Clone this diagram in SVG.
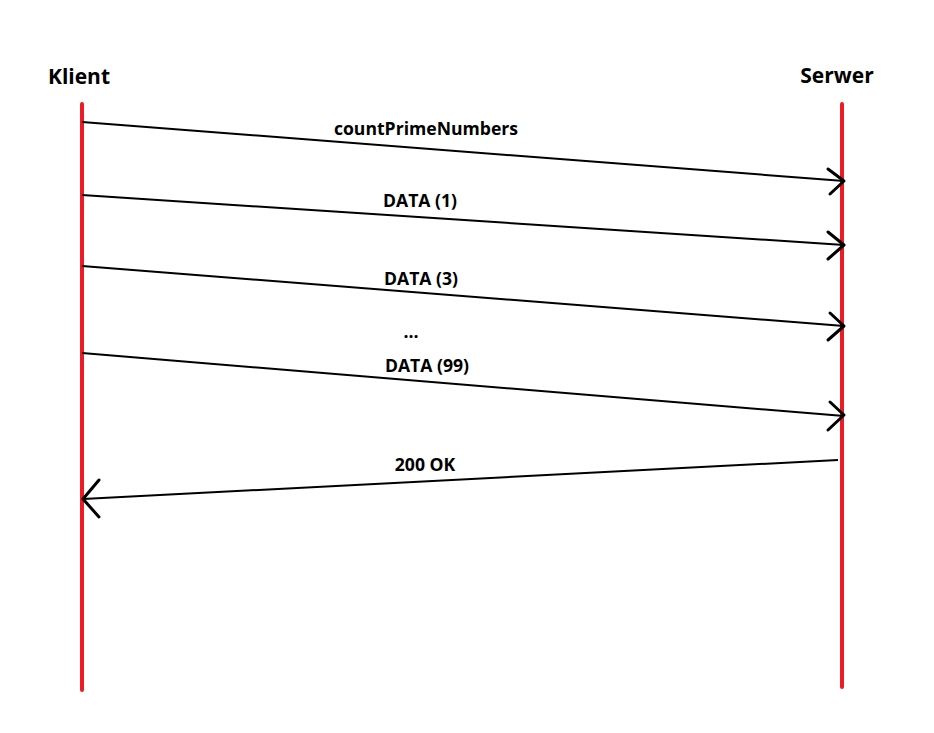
<svg xmlns="http://www.w3.org/2000/svg" width="934" height="733" viewBox="0 0 934 733">
<style>
.life{stroke:#ed1c24;stroke-width:4;stroke-linecap:round;fill:none}
.msg{stroke:#000;stroke-width:2;fill:none}
.head{stroke:#000;stroke-width:3;fill:none;stroke-linecap:round;stroke-linejoin:round}
text{font-family:"Open Sans","Liberation Sans",Arial,sans-serif;font-weight:bold;fill:#000;text-anchor:middle}
.actor{font-size:21px}
.lbl{font-size:17.6px}
</style>
<rect width="934" height="733" fill="#fff"/>
<g id="klient">
<line class="life" x1="82" y1="104" x2="82" y2="690"/>
<text class="actor" x="79" y="84">Klient</text>
</g>
<g id="serwer">
<line class="life" x1="842" y1="104" x2="842" y2="687"/>
<text class="actor" x="837" y="83">Serwer</text>
</g>
<g id="connectors">
<line class="msg" x1="82" y1="122" x2="844" y2="181"/>
<polyline class="head" points="828,169 844,181 830,194"/>
<text class="lbl" x="426" y="135">countPrimeNumbers</text>
<line class="msg" x1="82" y1="195" x2="844" y2="245"/>
<polyline class="head" points="828,232 844,245 828,259"/>
<text class="lbl" x="420" y="207">DATA (1)</text>
<line class="msg" x1="82" y1="266" x2="844" y2="326"/>
<polyline class="head" points="830,313 844,326 828,340"/>
<text class="lbl" x="421" y="285">DATA (3)</text>
<text class="lbl" x="411" y="338">...</text>
<line class="msg" x1="82" y1="353" x2="844" y2="416"/>
<polyline class="head" points="830,402 844,415 828,430"/>
<text class="lbl" x="427" y="372">DATA (99)</text>
<line class="msg" x1="838" y1="460" x2="83" y2="499"/>
<polyline class="head" points="99,480 83,499 99,517"/>
<text class="lbl" x="425" y="471">200 OK</text>
</g>
</svg>
